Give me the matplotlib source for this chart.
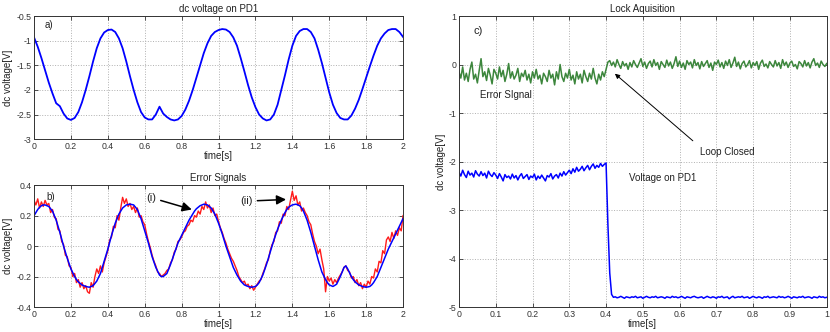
import numpy as np
import matplotlib.pyplot as plt
from matplotlib.ticker import FormatStrFormatter

plt.rcParams['font.family'] = ['Liberation Sans', 'DejaVu Sans']

# ---- panel a: dc voltage on PD1 (sampled every 0.02 s) ----
pd1_volt = [
    -0.93, -1.12, -1.35, -1.60, -1.85, -2.07, -2.27, -2.33, -2.48, -2.58,
    -2.61, -2.57, -2.45, -2.25, -2.00, -1.72, -1.42, -1.15, -0.95, -0.83,
    -0.78, -0.77, -0.82, -0.95, -1.15, -1.42, -1.72, -2.00, -2.25, -2.45,
    -2.56, -2.60, -2.60, -2.50, -2.34, -2.48, -2.55, -2.60, -2.62, -2.60,
    -2.53, -2.40, -2.22, -2.00, -1.75, -1.50, -1.25, -1.05, -0.90, -0.82,
    -0.78, -0.76, -0.77, -0.82, -0.93, -1.10, -1.35, -1.62, -1.90, -2.15,
    -2.35, -2.50, -2.58, -2.62, -2.60, -2.50, -2.30, -2.00, -1.70, -1.38,
    -1.10, -0.90, -0.80, -0.76, -0.76, -0.82, -0.95, -1.18, -1.45, -1.75,
    -2.05, -2.30, -2.47, -2.57, -2.60, -2.60, -2.52, -2.38, -2.20, -1.98,
    -1.75, -1.52, -1.30, -1.10, -0.95, -0.85, -0.78, -0.76, -0.76, -0.82,
    -0.92,
]

# ---- panel b: error signals (sampled every 0.01 s) ----
err_fit = [
    0.20, 0.22, 0.24, 0.255, 0.265, 0.27, 0.27, 0.265, 0.26, 0.245,
    0.23, 0.20, 0.17, 0.13, 0.09, 0.045, 0.0, -0.04, -0.08, -0.115,
    -0.15, -0.175, -0.20, -0.22, -0.235, -0.245, -0.255, -0.26, -0.265, -0.268,
    -0.27, -0.265, -0.26, -0.245, -0.23, -0.205, -0.18, -0.14, -0.10, -0.06,
    -0.02, 0.025, 0.07, 0.11, 0.15, 0.18, 0.21, 0.23, 0.25, 0.26,
    0.27, 0.273, 0.275, 0.273, 0.27, 0.255, 0.24, 0.21, 0.18, 0.14,
    0.10, 0.06, 0.02, -0.025, -0.07, -0.105, -0.14, -0.165, -0.19, -0.20,
    -0.20, -0.19, -0.18, -0.15, -0.12, -0.085, -0.05, -0.015, 0.02, 0.045,
    0.07, 0.095, 0.12, 0.145, 0.17, 0.19, 0.21, 0.23, 0.245, 0.255,
    0.265, 0.27, 0.275, 0.273, 0.27, 0.26, 0.25, 0.23, 0.21, 0.18,
    0.15, 0.115, 0.08, 0.04, 0.0, -0.035, -0.07, -0.105, -0.14, -0.165,
    -0.19, -0.21, -0.23, -0.243, -0.255, -0.26, -0.265, -0.268, -0.27, -0.268,
    -0.265, -0.255, -0.24, -0.215, -0.19, -0.155, -0.12, -0.08, -0.04, 0.0,
    0.04, 0.075, 0.11, 0.14, 0.17, 0.195, 0.22, 0.24, 0.255, 0.263,
    0.27, 0.273, 0.275, 0.27, 0.265, 0.25, 0.23, 0.20, 0.17, 0.13,
    0.09, 0.045, 0.0, -0.045, -0.09, -0.13, -0.17, -0.195, -0.22, -0.24,
    -0.255, -0.26, -0.265, -0.258, -0.25, -0.225, -0.20, -0.17, -0.14, -0.13,
    -0.15, -0.175, -0.20, -0.22, -0.235, -0.245, -0.255, -0.26, -0.265, -0.268,
    -0.27, -0.268, -0.265, -0.255, -0.24, -0.22, -0.20, -0.17, -0.14, -0.11,
    -0.08, -0.05, -0.02, 0.005, 0.03, 0.055, 0.08, 0.105, 0.13, 0.155,
    0.18,
]
err_meas = [
    0.30, 0.27, 0.31, 0.25, 0.29, 0.26, 0.30, 0.27, 0.28, 0.22,
    0.24, 0.19, 0.18, 0.11, 0.10, 0.03, 0.01, -0.06, -0.07, -0.13,
    -0.14, -0.20, -0.18, -0.24, -0.22, -0.27, -0.24, -0.28, -0.26, -0.30,
    -0.31, -0.24, -0.27, -0.20, -0.15, -0.18, -0.13, -0.17, -0.11, -0.07,
    -0.03, 0.04, 0.06, 0.13, 0.12, 0.20, 0.17, 0.25, 0.32, 0.28,
    0.31, 0.26, 0.28, 0.24, 0.26, 0.22, 0.25, 0.19, 0.20, 0.16,
    0.14, 0.08, 0.03, -0.01, -0.06, -0.10, -0.13, -0.17, -0.18, -0.20,
    -0.19, -0.18, -0.16, -0.15, -0.11, -0.09, -0.04, -0.02, 0.03, 0.04,
    0.06, 0.09, 0.10, 0.13, 0.14, 0.17, 0.16, 0.20, 0.19, 0.23,
    0.21, 0.26, 0.24, 0.29, 0.25, 0.27, 0.22, 0.25, 0.20, 0.21,
    0.16, 0.12, 0.09, 0.05, 0.02, -0.02, -0.05, -0.08, -0.10, -0.13,
    -0.16, -0.20, -0.22, -0.24, -0.23, -0.26, -0.25, -0.28, -0.26, -0.29,
    -0.27, -0.25, -0.23, -0.22, -0.18, -0.15, -0.11, -0.09, -0.03, 0.01,
    0.03, 0.09, 0.10, 0.16, 0.15, 0.21, 0.20, 0.26, 0.24, 0.30,
    0.36, 0.30, 0.33, 0.27, 0.29, 0.23, 0.25, 0.22, 0.20, 0.16,
    0.14, 0.08, 0.03, 0.00, -0.05, -0.02, -0.09, -0.15, -0.30, -0.20,
    -0.23, -0.21, -0.25, -0.22, -0.24, -0.21, -0.19, -0.17, -0.14, -0.13,
    -0.16, -0.17, -0.21, -0.20, -0.24, -0.22, -0.26, -0.24, -0.28, -0.25,
    -0.27, -0.23, -0.25, -0.20, -0.21, -0.15, -0.17, -0.10, -0.11, -0.03,
    -0.05, 0.04, 0.06, 0.03, 0.09, 0.05, 0.10, 0.07, 0.12, 0.10,
    0.20,
]

# ---- panel c: lock acquisition (sampled every 0.005 s) ----
lock_error = [
    -0.15, -0.28, -0.05, -0.32, -0.18, -0.35, -0.10, 0.05, -0.30, -0.20,
    -0.38, -0.12, 0.12, -0.25, -0.15, -0.33, -0.08, -0.22, -0.40, -0.10,
    -0.18, -0.30, -0.05, -0.25, -0.12, -0.35, -0.20, 0.02, -0.28, -0.15,
    -0.30, -0.22, -0.08, -0.35, -0.18, -0.25, -0.12, -0.32, -0.20, -0.38,
    -0.15, -0.28, -0.10, -0.30, -0.22, -0.40, -0.18, -0.25, -0.35, -0.12,
    -0.28, -0.20, -0.42, -0.15, -0.30, 0.00, -0.25, -0.35, -0.18, -0.28,
    -0.10, -0.32, -0.22, -0.40, -0.15, -0.30, -0.20, -0.38, -0.12, -0.25,
    -0.35, -0.18, -0.30, -0.08, -0.28, -0.40, -0.20, -0.32, -0.15, -0.25,
    -0.10, 0.05,
    0.08, -0.02, 0.05, -0.05, 0.10, 0.00, -0.08, 0.06, -0.03, 0.02,
    -0.10, 0.04, -0.05, 0.08, 0.00, -0.06, 0.03, 0.12, -0.04, 0.05,
    -0.08, 0.02, 0.07, -0.05, 0.10, -0.02, 0.04, -0.10, 0.06, 0.00,
    -0.06, 0.09, -0.03, 0.05, -0.08, 0.02, 0.16, -0.04, 0.07, -0.06,
    0.03, -0.10, 0.08, 0.00, 0.05, -0.07, 0.10, -0.02, 0.04, -0.09,
    0.06, -0.04, 0.02, 0.08, -0.06, 0.03, -0.12, 0.05, 0.00, 0.09,
    -0.05, 0.04, -0.08, 0.07, -0.02, 0.10, -0.06, 0.03, 0.15, -0.04,
    0.05, -0.09, 0.02, 0.07, -0.05, 0.00, 0.08, -0.07, 0.04, -0.02,
    0.06, -0.10, 0.03, 0.09, -0.04, 0.01, -0.07, 0.06, 0.00, -0.05,
    0.08, -0.03, 0.04, -0.08, 0.10, -0.02, 0.05, -0.06, 0.03, 0.07,
    -0.04, 0.00, -0.09, 0.06, 0.02, -0.05, 0.08, -0.03, 0.04, -0.07,
    0.05, 0.12, -0.02, 0.03, -0.06, 0.07, 0.00, -0.04, 0.02,
]
lock_pd1 = [
    -2.22, -2.30, -2.18, -2.27, -2.33, -2.20, -2.28, -2.24, -2.32, -2.19,
    -2.26, -2.30, -2.21, -2.29, -2.24, -2.34, -2.20, -2.27, -2.31, -2.23,
    -2.28, -2.35, -2.25, -2.32, -2.40, -2.27, -2.33, -2.30, -2.36, -2.26,
    -2.34, -2.29, -2.38, -2.30, -2.25, -2.35, -2.31, -2.27, -2.37, -2.30,
    -2.33, -2.26, -2.38, -2.30, -2.35, -2.28, -2.34, -2.40, -2.29, -2.32,
    -2.25, -2.36, -2.30, -2.27, -2.34, -2.24, -2.30, -2.21, -2.28, -2.23,
    -2.18, -2.25, -2.15, -2.22, -2.12, -2.20, -2.16, -2.10, -2.19, -2.13,
    -2.08, -2.17, -2.10, -2.05, -2.14, -2.08, -2.12, -2.04, -2.10, -2.06,
    -2.03, -3.30, -4.30, -4.74,
    -4.80, -4.79, -4.81, -4.80, -4.78, -4.80, -4.82, -4.79, -4.80, -4.81,
    -4.79, -4.80, -4.78, -4.81, -4.80, -4.79, -4.82, -4.80, -4.78, -4.80,
    -4.81, -4.79, -4.80, -4.78, -4.81, -4.80, -4.79, -4.80, -4.82, -4.79,
    -4.80, -4.81, -4.78, -4.80, -4.79, -4.81, -4.80, -4.78, -4.80, -4.82,
    -4.79, -4.80, -4.81, -4.79, -4.78, -4.80, -4.81, -4.80, -4.79, -4.82,
    -4.80, -4.78, -4.80, -4.81, -4.79, -4.80, -4.82, -4.79, -4.80, -4.78,
    -4.81, -4.80, -4.79, -4.83, -4.80, -4.78, -4.81, -4.80, -4.79, -4.80,
    -4.78, -4.81, -4.80, -4.79, -4.82, -4.80, -4.78, -4.80, -4.81, -4.79,
    -4.80, -4.82, -4.79, -4.80, -4.78, -4.81, -4.80, -4.79, -4.80, -4.81,
    -4.78, -4.80, -4.79, -4.81, -4.80, -4.78, -4.80, -4.82, -4.79, -4.80,
    -4.81, -4.79, -4.80, -4.78, -4.81, -4.80, -4.79, -4.80, -4.82, -4.79,
    -4.80, -4.81, -4.78, -4.80, -4.79, -4.81, -4.80,
]

t_a = np.linspace(0, 2, len(pd1_volt))
t_b = np.linspace(0, 2, len(err_fit))
t_c = np.linspace(0, 1, len(lock_error))

txt = '#222222'
fs = 7
tick_fs = 6.3


def style(ax, xt, yt):
    ax.set_xticks(xt)
    ax.set_yticks(yt)
    ax.xaxis.set_major_formatter(FormatStrFormatter('%g'))
    ax.yaxis.set_major_formatter(FormatStrFormatter('%g'))
    ax.tick_params(direction='in', top=True, right=True, length=3, width=0.6,
                   labelsize=tick_fs, colors='#333333', pad=2)
    ax.grid(True, linestyle=':', color='#b0b0b0', linewidth=0.7)
    for s in ax.spines.values():
        s.set_linewidth(0.7)
        s.set_color('#333333')
    ax.set_xlabel('time[s]', fontsize=fs, color=txt, labelpad=0)
    ax.set_ylabel('dc voltage[V]', fontsize=fs, color=txt, labelpad=2)


fig = plt.figure(figsize=(8.3, 3.32), dpi=100)

# a) dc voltage on PD1
ax_a = fig.add_axes([0.041, 0.581, 0.4446, 0.370])
ax_a.plot(t_a, pd1_volt, color='#0000ff', lw=1.3)
ax_a.set_xlim(0, 2)
ax_a.set_ylim(-3, -0.5)
style(ax_a, np.arange(0, 2.01, 0.2), np.arange(-3, -0.49, 0.5))
ax_a.set_title('dc voltage on PD1', fontsize=fs, color=txt, pad=3)
ax_a.text(0.056, -0.68, 'a)', fontsize=fs, color=txt, va='center')

# b) error signals
ax_b = fig.add_axes([0.041, 0.0753, 0.4446, 0.367])
ax_b.plot(t_b, err_meas, color='#ff1a1a', lw=1.0)
ax_b.plot(t_b, err_fit, color='#0000ff', lw=1.1)
ax_b.set_xlim(0, 2)
ax_b.set_ylim(-0.4, 0.4)
style(ax_b, np.arange(0, 2.01, 0.2), np.arange(-0.4, 0.41, 0.2))
ax_b.set_title('Error Signals', fontsize=fs, color=txt, pad=3)
ax_b.text(0.068, 0.32, 'b)', fontsize=fs, color=txt, va='center')
ax_b.annotate('(i)', xy=(0.855, 0.24), xytext=(0.61, 0.317),
              fontsize=fs + 1, color=txt, va='center',
              arrowprops=dict(arrowstyle='-|>', color='k', lw=1.1,
                              mutation_scale=14, shrinkA=1, shrinkB=0))
ax_b.annotate('(ii)', xy=(1.366, 0.306), xytext=(1.12, 0.295),
              fontsize=fs + 1, color=txt, va='center',
              arrowprops=dict(arrowstyle='-|>', color='k', lw=1.1,
                              mutation_scale=14, shrinkA=1, shrinkB=0))

# c) lock acquisition
ax_c = fig.add_axes([0.553, 0.0753, 0.443, 0.8765])
ax_c.plot(t_c, lock_error, color='#3c863c', lw=1.1)
ax_c.plot(t_c, lock_pd1, color='#0000ff', lw=1.1)
ax_c.set_xlim(0, 1)
ax_c.set_ylim(-5, 1)
style(ax_c, np.arange(0, 1.001, 0.1), np.arange(-5, 1.1, 1))
ax_c.set_title('Lock Aquisition', fontsize=fs, color=txt, pad=3)
ax_c.text(0.039, 0.69, 'c)', fontsize=fs + 1, color=txt, va='center')
ax_c.text(0.056, -0.62, 'Error SIgnal', fontsize=fs, color=txt, va='center')
ax_c.text(0.463, -2.34, 'Voltage on PD1', fontsize=fs, color=txt, va='center')
ax_c.annotate('Loop Closed', xy=(0.424, -0.19), xytext=(0.655, -1.8),
              fontsize=fs, color=txt, va='center',
              arrowprops=dict(arrowstyle='-|>', color='k', lw=0.7,
                              mutation_scale=7, shrinkA=4, shrinkB=0,
                              relpos=(0, 1)))

fig.savefig('out.png', dpi=100, facecolor='white')
